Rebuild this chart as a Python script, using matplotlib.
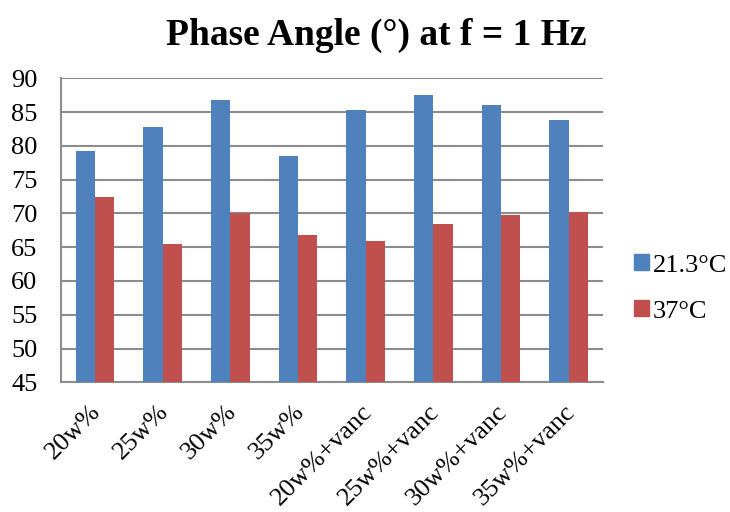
import matplotlib
matplotlib.use("Agg")
import matplotlib.pyplot as plt
import matplotlib.transforms as mtransforms
import numpy as np
from matplotlib.patches import Patch

categories = ["20w%", "25w%", "30w%", "35w%", "20w%+vanc", "25w%+vanc", "30w%+vanc", "35w%+vanc"]
series_names = ["21.3°C", "37°C"]
vals_21 = [79.25, 82.75, 86.75, 78.5, 85.3, 87.5, 86.05, 83.9]
vals_37 = [72.5, 65.45, 70.1, 66.8, 65.9, 68.4, 69.7, 70.2]
yticks = [45, 50, 55, 60, 65, 70, 75, 80, 85, 90]

plt.rcParams['font.family'] = ['Liberation Serif', 'DejaVu Serif']

fig = plt.figure(figsize=(7.3, 5.12), dpi=100)
ax = fig.add_axes([0.0836, 0.2533, 0.742, 0.5937])

x = np.arange(len(categories))
w = 0.2857
blue = "#4F81BD"
red = "#C0504D"
ax.bar(x - w/2, np.array(vals_21) - 45, w, bottom=45, color=blue, zorder=3)
ax.bar(x + w/2, np.array(vals_37) - 45, w, bottom=45, color=red, zorder=3)

ax.set_xlim(-0.5, len(categories) - 0.5)
ax.set_ylim(45, 90)
ax.set_yticks(yticks)
ax.set_yticklabels([str(t) for t in yticks], fontsize=19)
ax.yaxis.grid(True, color="#8C8C8C", linewidth=1.5, zorder=0)
ax.set_axisbelow(True)
ax.set_xticks(x)
ax.set_xticklabels(categories, fontsize=19, rotation=45, ha='right', va='top',
                   rotation_mode='anchor')
ax.tick_params(axis='y', length=0, pad=17)
ax.tick_params(axis='x', length=0, pad=13)
offset = mtransforms.ScaledTranslation(-5/100, 0, fig.dpi_scale_trans)
for lab in ax.get_xticklabels():
    lab.set_transform(lab.get_transform() + offset)
for s in ['top', 'right']:
    ax.spines[s].set_visible(False)
for s in ['left', 'bottom']:
    ax.spines[s].set_color("#8C8C8C")
    ax.spines[s].set_linewidth(1.5)

fig.text(0.515, 0.93, "Phase Angle (°) at f = 1 Hz", ha='center', va='center',
         fontsize=27, fontweight='bold')

handles = [Patch(color=blue), Patch(color=red)]
fig.legend(handles, series_names, loc='center left', bbox_to_anchor=(0.869, 0.4365),
           frameon=False, fontsize=19, handlelength=0.55, handleheight=0.55,
           handletextpad=0.15, labelspacing=0.9, borderpad=0, borderaxespad=0)

fig.savefig("out.png", dpi=100)
